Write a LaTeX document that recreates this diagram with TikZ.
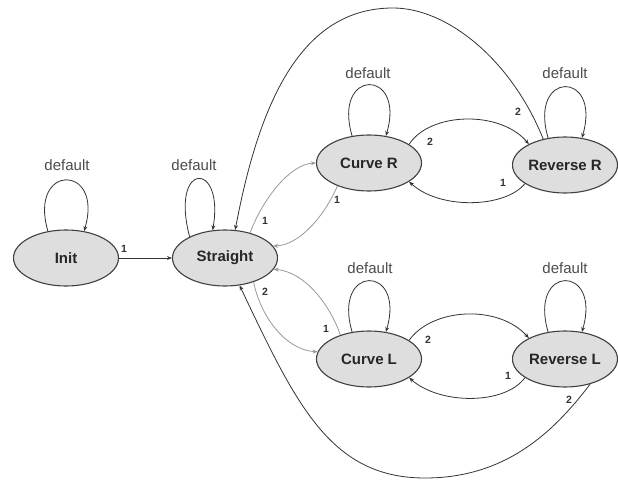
\documentclass[tikz,border=0pt]{standalone}
\usepackage{fontspec}
\setmainfont{Liberation Sans}
\usetikzlibrary{arrows.meta,shapes.geometric}
\begin{document}
\begin{tikzpicture}[x=1pt,y=-1pt,
  state/.style={ellipse, draw=black!75, line width=1.1pt, fill=black!13,
    minimum width=105pt, minimum height=56pt, inner sep=0pt,
    font=\fontsize{15}{15}\selectfont\bfseries, text=black!85},
  edge/.style={line width=0.8pt, draw=black!80, -{Stealth[length=5pt,width=4pt]}},
  gedge/.style={edge, draw=black!40},
  lbl/.style={font=\fontsize{10.5}{10.5}\selectfont\bfseries, text=black!80, inner sep=0pt},
  dft/.style={font=\fontsize{15}{15}\selectfont, text=black!70, inner sep=0pt},
]
\useasboundingbox (0,0) rectangle (618,481);

% states
\node[state] (I)  at (66,258)  {\makebox[0pt]{Init}};
\node[state] (S)  at (225,258) {\makebox[0pt]{Straight}};
\node[state] (CR) at (369,163) {\makebox[0pt]{Curve R}};
\node[state] (CL) at (369,359) {\makebox[0pt]{Curve L}};
\node[state] (RR) at (565,165) {\makebox[0pt]{Reverse R}};
\node[state] (RL) at (565,359) {\makebox[0pt]{Reverse L}};

% self loops
\draw[edge] (I.124)  .. controls +(-20,-68) and +(20,-68) .. (I.56);
\draw[edge] (S.149)  .. controls +(-20,-76) and +(12,-70) .. (S.114);
\draw[edge] (CR.122) .. controls +(-20,-68) and +(20,-68) .. (CR.58);
\draw[edge] (RR.122) .. controls +(-20,-68) and +(20,-68) .. (RR.58);
\draw[edge] (CL.122) .. controls +(-20,-68) and +(20,-68) .. (CL.58);
\draw[edge] (RL.122) .. controls +(-20,-68) and +(20,-68) .. (RL.58);

\node[dft] (dI)  at (67,165)  {default};
\node[dft] (dS)  at (194,165) {default};
\node[dft] (dCR) at (368,73)  {default};
\node[dft] (dRR) at (565,73)  {default};
\node[dft] (dCL) at (370,268) {default};
\node[dft] (dRL) at (565,268) {default};

% Init -> Straight
\draw[edge] (I.east) -- (S.west);

% Straight <-> Curve R / Curve L (grey)
\draw[gedge] (S.45)   .. controls (262,200) and (290,164) .. (CR.180);
\draw[gedge] (CR.216) .. controls (325,215) and (300,245) .. (S.14);
\draw[gedge] (S.-40)  .. controls (260,315) and (285,350) .. (CL.172);
\draw[gedge] (CL.140) .. controls (330,305) and (305,272) .. (S.-13);

% Curve R <-> Reverse R
\draw[edge] (CR.25)  .. controls (430,112) and (500,110) .. (RR.150);
\draw[edge] (RR.205) .. controls (505,208) and (440,210) .. (CR.-25);
% Curve L <-> Reverse L
\draw[edge] (CL.25)  .. controls (432,308) and (498,304) .. (RL.150);
\draw[edge] (RL.205) .. controls (505,405) and (440,405) .. (CL.-25);

% big arcs back to Straight
\coordinate (top) at (393,8);
\coordinate (bot) at (425,478);
\draw[edge] (RR.130) .. controls (512,61) and (448,8) .. (top)
                     .. controls (303,8) and (260,98) .. (S.70);
\draw[edge] (RL.-45) .. controls (553,433) and (505,478) .. (bot)
                     .. controls (330,478) and (296,404) .. (S.-62);

% transition labels
\node[lbl] (t1)  at (124,249) {1};
\node[lbl] (t2)  at (265,221) {1};
\node[lbl] (t3)  at (337,200) {1};
\node[lbl] (t4)  at (265,292) {2};
\node[lbl] (t5)  at (326,329) {1};
\node[lbl] (t6)  at (430,142) {2};
\node[lbl] (t7)  at (503,183) {1};
\node[lbl] (t8)  at (428,340) {2};
\node[lbl] (t9)  at (508,376) {1};
\node[lbl] (t10) at (518,112) {2};
\node[lbl] (t11) at (569,400) {2};
\end{tikzpicture}
\end{document}
